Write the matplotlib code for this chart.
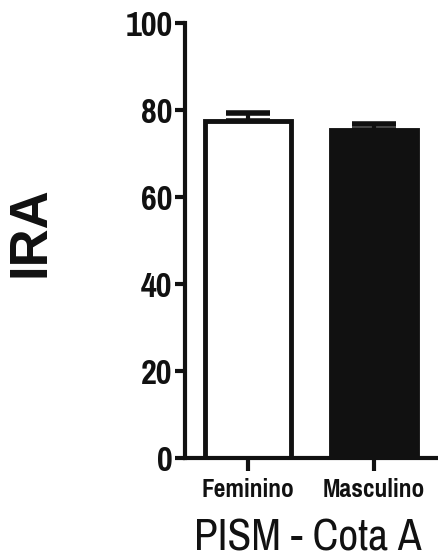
import matplotlib.pyplot as plt
import numpy as np

groups = ["Feminino", "Masculino"]
means = [77.5, 75.5]
errs = [1.8, 1.3]
yticks = [0, 20, 40, 60, 80, 100]

narrow = ["Pragati Narrow", "PT Sans Narrow", "DejaVu Sans"]
ink = "#111111"

fig = plt.figure(figsize=(4.38, 5.58), dpi=100)
ax = fig.add_axes([0.422, 0.179, 0.582, 0.780])

x = np.arange(len(groups))
ax.bar(x, means, width=0.68, color=["white", ink], edgecolor=ink,
       linewidth=3.5, zorder=2)
ax.errorbar(x, means, yerr=[[0, 0], errs], fmt="none", ecolor=ink,
            elinewidth=3, capsize=16, capthick=4, zorder=1)

ax.set_xlim(-0.5, 1.524)
ax.set_ylim(0, 100)
ax.set_yticks(yticks)
ax.set_yticklabels([str(t) for t in yticks], family=narrow, fontweight="bold", fontsize=27)
ax.set_xticks(x)
ax.set_xticklabels(groups, family=narrow, fontweight="bold", fontsize=20)

for s in ["top", "right"]:
    ax.spines[s].set_visible(False)
for s in ["left", "bottom"]:
    ax.spines[s].set_linewidth(3)
    ax.spines[s].set_color(ink)
ax.tick_params(axis="y", length=7, width=3, pad=2, colors=ink)
ax.tick_params(axis="x", length=9, width=3, pad=5, colors=ink)

fig.text(0.703, 0.0143, "PISM - Cota A", family=narrow, fontsize=34,
         ha="center", va="baseline", color=ink)
fig.text(0.07, 0.585, "IRA", rotation=90, fontsize=38, fontweight="bold",
         family="Liberation Sans", ha="center", va="center", color=ink)

fig.savefig("out.png", dpi=100)
